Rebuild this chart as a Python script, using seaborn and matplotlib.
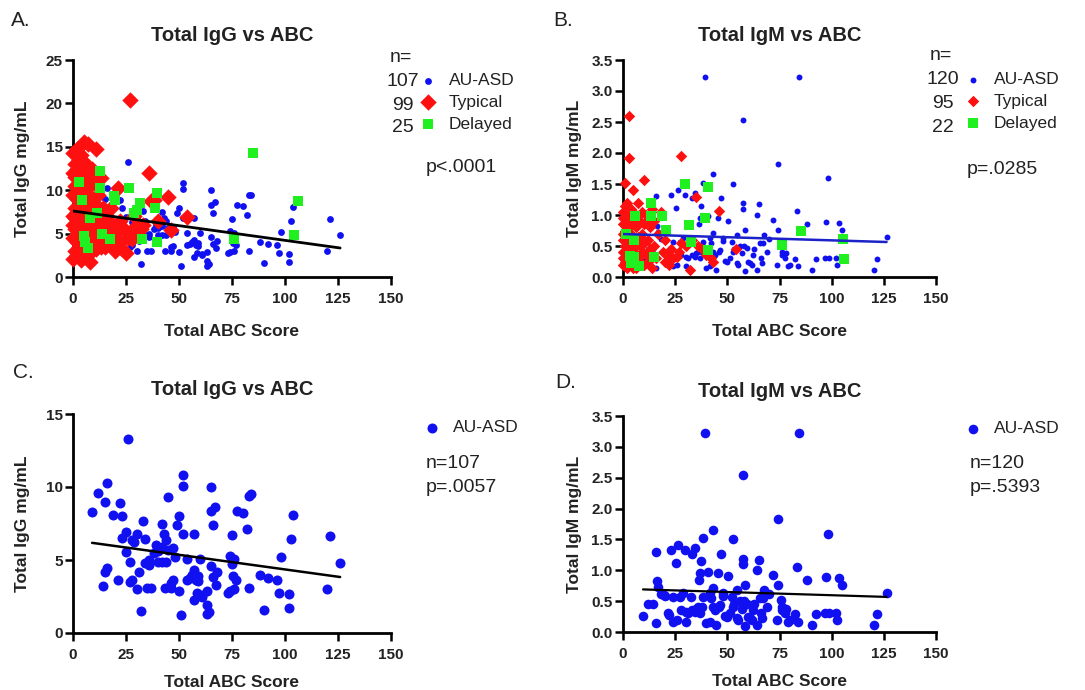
import matplotlib
matplotlib.use("Agg")
import matplotlib.pyplot as plt
import seaborn as sns
import pandas as pd
import numpy as np

# AU-ASD IgG (panels A and C)
asd_igg_x = [9, 12, 16, 15, 19, 22, 23, 26, 23, 25, 25, 28, 30, 33, 34, 29, 27, 16, 15, 14,
             21, 27, 28, 30, 31, 32, 35, 37, 36, 39, 40, 40, 42, 43, 44, 42, 44, 45, 43.5, 46,
             47, 47, 49, 50, 50, 51, 52, 52, 52, 54, 54, 57, 57, 57, 58, 58.5, 59, 60, 61, 63,
             63, 64, 63, 65, 65, 67, 66, 65, 66, 67.5, 68, 73, 74, 75, 75, 75.5, 76, 77, 77.5, 80,
             82, 83, 83, 84, 88, 90, 92, 96, 97, 98, 102, 102, 103, 104, 120, 121, 126,
             34, 38, 45, 46, 55, 56, 59, 48, 42, 36, 61, 74, 76]
asd_igg_y = [8.3, 9.6, 10.25, 9.0, 8.1, 8.9, 8.0, 13.3, 6.5, 6.9, 5.55, 6.35, 6.8, 7.65, 6.45, 6.25, 4.85, 4.45, 4.2, 3.2,
             3.6, 3.5, 3.65, 3.0, 4.2, 1.5, 3.05, 3.05, 4.65, 6.0, 5.6, 4.85, 7.45, 6.75, 6.4, 4.85, 4.85, 9.3, 3.05, 3.05,
             3.6, 5.8, 7.4, 8.0, 2.9, 1.25, 10.8, 10.1, 6.8, 5.1, 3.65, 6.75, 4.3, 2.25, 3.65, 2.75, 3.55, 5.05, 2.6, 1.9,
             1.3, 1.45, 2.9, 10.0, 8.35, 8.6, 7.4, 4.6, 3.85, 3.3, 4.2, 2.75, 5.25, 4.7, 6.7, 3.9, 3.0, 3.65, 8.35, 8.2,
             7.15, 3.05, 9.4, 9.5, 4.0, 1.6, 3.75, 3.65, 2.75, 5.2, 2.65, 1.7, 6.45, 8.1, 3.0, 6.65, 4.8,
             4.8, 5.5, 5.7, 3.4, 3.8, 4.0, 3.9, 5.2, 5.9, 5.0, 2.5, 2.9, 5.1]

# AU-ASD IgM (panels B and D)
asd_igm_x = [9.6, 12, 14.4, 15.7, 16, 16.3, 16.8, 19.5, 21.6, 23.2, 24, 24, 25.6, 26.4, 27.2, 28.8, 29.6, 30.4, 30.4, 32.8,
             33.3, 34.4, 34.4, 36, 36.5, 36.8, 37.6, 38.4, 38.4, 39.2, 40.8, 41.6, 41.6, 42.9, 43.2, 43.2, 44.8, 45.6, 46.4, 47.2,
             47.7, 48.8, 50.4, 51.2, 52, 52.5, 52.8, 54.4, 54.4, 56.8, 57.6, 57.6, 57.6, 58.4, 58.4, 59.2, 60.8, 62.4, 64, 64.3,
             65.3, 65.6, 66.4, 67.5, 68.8, 72, 73.6, 74.2, 74.4, 75.5, 76.4, 77.6, 79.2, 82.4, 83.2, 84, 84.4, 88.3, 90.4, 92.5,
             96.8, 97.2, 98.4, 98.8, 102, 102.7, 103.6, 104.8, 120.4, 121.5, 126.3,
             18, 20, 22, 26, 28, 31, 33, 35, 37, 38, 40, 42, 44, 46, 48, 50, 53, 55, 56, 58,
             60, 62, 63, 66, 67, 70, 76, 78, 80]
asd_igm_y = [0.26, 0.45, 0.45, 1.30, 0.14, 0.82, 0.73, 0.60, 0.30, 1.33, 0.57, 0.17, 1.12, 1.41, 0.57, 0.63, 1.33, 0.33, 0.17, 0.57,
             1.27, 1.36, 0.33, 0.41, 0.85, 0.95, 1.15, 1.52, 0.57, 3.22, 0.98, 0.63, 0.17, 0.71, 1.66, 0.41, 0.11, 0.95, 0.44, 1.27,
             0.63, 0.26, 0.91, 0.30, 0.57, 1.50, 0.41, 0.68, 0.22, 0.38, 1.19, 1.10, 2.54, 0.76, 0.09, 0.46, 0.22, 0.36, 0.11, 1.00,
             1.17, 0.55, 0.22, 0.68, 0.41, 0.92, 0.19, 1.83, 0.76, 0.52, 0.41, 0.30, 0.17, 0.29, 1.06, 0.17, 3.22, 0.85, 0.11, 0.29,
             0.30, 0.89, 1.59, 0.30, 0.30, 0.20, 0.87, 0.76, 0.11, 0.29, 0.64,
             0.62, 0.58, 0.28, 0.20, 0.35, 0.30, 0.35, 0.38, 0.30, 0.40, 0.15, 0.55, 0.35, 0.40, 0.58, 0.25, 0.45, 0.20, 0.50, 0.50,
             0.25, 0.20, 0.45, 0.30, 0.55, 0.62, 0.35, 0.38, 0.20]

# Typical IgG (panel A)
typ_igg_x = [0, 0, 0, 0, 0, 0, 0, 1, 1, 1, 1, 1, 1, 1, 2, 2, 2, 2, 2, 2, 3, 3, 3, 3, 3, 3, 4, 4, 4, 4, 4,
             5, 5, 5, 5, 5, 6, 6, 6, 6, 7, 7, 7, 7, 8, 8, 8, 8, 9, 9, 9, 10, 10, 10, 10, 11, 11, 11,
             12, 12, 12, 13, 13, 13, 14, 14, 15, 15, 16, 16,
             17, 18, 19, 20, 20, 21, 22, 22, 23, 24, 25, 26, 27, 28, 28, 29, 30, 31, 32, 33,
             36, 37, 38, 40, 45, 46, 54, 18, 9]
typ_igg_y = [2.1, 4.5, 7.0, 9.5, 12.0, 14.3, 6.0, 3.0, 5.5, 8.0, 10.5, 13.0, 11.5, 6.8, 2.5, 4.0, 7.5, 9.0, 12.5, 14.8,
             3.5, 5.0, 6.5, 10.0, 11.0, 13.5, 2.0, 6.0, 8.5, 12.0, 14.0,
             3.0, 5.5, 7.0, 11.5, 15.5, 4.5, 6.5, 9.5, 13.0, 2.5, 5.0, 8.0, 15.3, 1.7, 6.0, 10.5, 12.0, 3.5, 7.0, 9.0,
             4.0, 5.5, 8.5, 11.0, 3.2, 6.5, 14.8, 4.5, 7.5, 9.5, 3.5, 6.0, 11.4, 5.0, 8.0, 3.5, 6.5, 7.0, 4.5,
             5.5, 8.0, 6.0, 3.0, 5.0, 10.2, 4.0, 6.5, 3.2, 5.5, 2.8, 4.5, 20.4, 5.4, 4.4, 7.0, 5.0, 6.0, 5.5, 6.0,
             12.0, 8.8, 8.9, 6.5, 9.2, 5.4, 6.9, 4.0, 12.5]

# Typical IgM (panel B)
typ_igm_x = [3, 3, 1, 5, 10, 28, 35, 46, 54, 32, 42, 26,
             0, 0, 0, 0, 0, 0, 0, 1, 1, 1, 1, 1, 2, 2, 2, 2, 2, 3, 3, 3, 3, 4, 4, 4, 4,
             5, 5, 5, 6, 6, 6, 6, 7, 7, 7, 8, 8, 8, 9, 9, 9, 10, 10, 10,
             11, 11, 12, 12, 13, 13, 14, 14, 15, 15, 16, 17, 18, 19, 20, 20, 21, 22, 23, 24,
             27, 28, 30, 33, 36, 38, 40, 43,
             0, 1, 2, 3, 4, 5, 6, 7, 8, 9, 12]
typ_igm_y = [2.59, 1.92, 1.52, 1.41, 1.57, 1.95, 1.29, 1.06, 0.45, 0.11, 0.31, 0.33,
             0.2, 0.4, 0.6, 0.85, 1.05, 0.3, 0.7, 0.25, 0.5, 0.75, 0.95, 1.15, 0.15, 0.35, 0.6, 0.9, 1.2,
             0.3, 0.55, 0.8, 1.0, 0.2, 0.45, 0.7, 1.1,
             0.35, 0.6, 0.9, 0.15, 0.5, 0.8, 1.0, 0.3, 0.65, 1.2, 0.25, 0.5, 0.9, 0.4, 0.7, 1.05, 0.2, 0.55, 0.85,
             0.35, 1.0, 0.6, 0.25, 0.8, 0.45, 0.15, 1.1, 0.5, 0.9, 0.3, 0.7, 1.05, 0.4, 0.6, 0.25, 0.35, 0.2, 0.45, 0.3,
             0.4, 0.55, 0.5, 0.6, 0.5, 0.45, 0.35, 0.25,
             0.95, 0.4, 0.75, 0.2, 0.9, 0.15, 0.35, 0.85, 0.65, 0.2, 0.9]

# Delayed IgG (panel A)
del_igg_x = [2.7, 4.2, 12.9, 12.9, 26.3, 19.2, 20, 39.6, 38.8, 31.8, 30.2, 28.6, 32.5, 39.6, 17.6,
             13.7, 5, 6.9, 5.8, 75.8, 84.9, 106, 104.4, 11.3, 8]
del_igg_y = [10.9, 8.9, 12.2, 10.2, 10.2, 9.3, 8.9, 9.7, 7.9, 8.5, 7.7, 7.4, 4.4, 4.0, 4.4,
             4.9, 4.7, 3.3, 4.0, 4.4, 14.3, 8.8, 4.8, 7.4, 6.8]

# Delayed IgM (panel B)
del_igm_x = [29.6, 40.8, 13.6, 5.6, 13.6, 18.9, 39.5, 31.7, 20.5, 85.2, 32.8, 76, 105.2, 106, 40.5,
             14.7, 5.3, 3.2, 5.3, 7.7, 4, 1.6]
del_igm_y = [1.50, 1.45, 1.20, 0.99, 0.98, 0.99, 0.95, 0.84, 0.76, 0.74, 0.57, 0.52, 0.61, 0.29, 0.43,
             0.32, 0.60, 0.34, 0.33, 0.17, 0.22, 0.70]

group_names = ["AU-ASD", "Typical", "Delayed"]
n_igg = ["107", "99", "25"]
n_igm = ["120", "95", "22"]

BLUE = "#1010f0"
RED = "#ff1010"
GREEN = "#20f020"
INK = "#222222"

W, H = 1085, 690

sns.set_style("ticks")
plt.rcParams["font.family"] = ["Liberation Sans", "DejaVu Sans"]
plt.rcParams["text.color"] = INK

fig = plt.figure(figsize=(W / 100, H / 100), dpi=100)


def box(l, t, r, b):
    return [l / W, 1 - b / H, (r - l) / W, (b - t) / H]


def ftext(x, y, s, fs=14, **kw):
    fig.text(x / W, 1 - y / H, s, fontsize=fs, va="center", color=INK, **kw)


def style_axis(ax, ymax, ystep, ylabel, title, fmt, xpad, ypad):
    sns.despine(ax=ax)
    ax.set_xlim(0, 150)
    ax.set_ylim(0, ymax)
    ax.set_xticks(np.arange(0, 151, 25))
    yt = np.arange(0, ymax + 1e-9, ystep)
    ax.set_yticks(yt)
    ax.set_yticklabels([fmt.format(v) for v in yt])
    for s in ["left", "bottom"]:
        ax.spines[s].set_linewidth(2)
        ax.spines[s].set_color("black")
    ax.tick_params(width=1.8, length=5.5, labelsize=11, color="black", labelcolor=INK)
    ax.tick_params(axis="x", pad=5)
    ax.tick_params(axis="y", pad=2)
    for lab in ax.get_xticklabels() + ax.get_yticklabels():
        lab.set_fontweight("bold")
    ax.set_xlabel("Total ABC Score", fontsize=12.5, fontweight="bold", labelpad=xpad, color=INK)
    ax.set_ylabel(ylabel, fontsize=12.5, fontweight="bold", labelpad=ypad, color=INK)
    ax.set_title(title, fontsize=14.5, fontweight="bold", pad=14, color=INK)


def legend(ax, x, y):
    h, l = ax.get_legend_handles_labels()
    keep = [g for g in group_names if g in l]
    ax.legend([h[l.index(g)] for g in keep], keep,
              loc="upper left", bbox_to_anchor=(x / W, 1 - y / H), bbox_transform=fig.transFigure,
              frameon=False, fontsize=12.5, handlelength=0.7, handletextpad=0.85, labelspacing=0.38,
              borderpad=0, borderaxespad=0, labelcolor=INK)


# ---- A ----
axA = fig.add_axes(box(73, 60, 391, 277))
sns.scatterplot(x=typ_igg_x, y=typ_igg_y, ax=axA, color=RED, marker="D", s=70, linewidth=0,
                label="Typical", clip_on=False, zorder=3)
sns.scatterplot(x=asd_igg_x, y=asd_igg_y, ax=axA, color=BLUE, marker="o", s=24, linewidth=0,
                label="AU-ASD", clip_on=False, zorder=2)
sns.scatterplot(x=del_igg_x, y=del_igg_y, ax=axA, color=GREEN, marker="s", s=50, linewidth=0,
                label="Delayed", clip_on=False, zorder=4)
sns.regplot(x=np.array(asd_igg_x + typ_igg_x + del_igg_x), y=np.array(asd_igg_y + typ_igg_y + del_igg_y),
            ax=axA, scatter=False, ci=None, color="black", line_kws={"lw": 2, "zorder": 5})
style_axis(axA, 25, 5, "Total IgG mg/mL", "Total IgG vs ABC", "{:.0f}", 13, 11)
legend(axA, 422, 73)
ftext(390, 58, "n=")
for i, n in enumerate(n_igg):
    ftext(403, 82 + 23 * i, n, ha="center")
ftext(426, 168, "p<.0001")
ftext(11, 20, "A.", fs=15)

# ---- B ----
axB = fig.add_axes(box(623, 60, 936, 277))
sns.scatterplot(x=typ_igm_x, y=typ_igm_y, ax=axB, color=RED, marker="D", s=34, linewidth=0,
                label="Typical", clip_on=False, zorder=3)
sns.scatterplot(x=asd_igm_x, y=asd_igm_y, ax=axB, color=BLUE, marker="o", s=18, linewidth=0,
                label="AU-ASD", clip_on=False, zorder=2)
sns.scatterplot(x=del_igm_x, y=del_igm_y, ax=axB, color=GREEN, marker="s", s=42, linewidth=0,
                label="Delayed", clip_on=False, zorder=4)
sns.regplot(x=np.array(asd_igm_x + typ_igm_x + del_igm_x), y=np.array(asd_igm_y + typ_igm_y + del_igm_y),
            ax=axB, scatter=False, ci=None, color="#1a22c8", line_kws={"lw": 1.8, "zorder": 5})
style_axis(axB, 3.5, 0.5, "Total IgM mg/mL", "Total IgM vs ABC", "{:.1f}", 13, 7)
legend(axB, 967, 72)
ftext(930, 55, "n=")
for i, n in enumerate(n_igm):
    ftext(943, 80 + 24 * i, n, ha="center")
ftext(967, 170, "p=.0285")
ftext(553, 20, "B.", fs=15)

# ---- C ----
axC = fig.add_axes(box(73, 414, 391, 633))
sns.scatterplot(x=asd_igg_x, y=asd_igg_y, ax=axC, color=BLUE, marker="o", s=52, linewidth=0,
                label="AU-ASD", clip_on=False)
sns.regplot(x=np.array(asd_igg_x), y=np.array(asd_igg_y), ax=axC, scatter=False, ci=None,
            color="black", line_kws={"lw": 1.8})
style_axis(axC, 15, 5, "Total IgG mg/mL", "Total IgG vs ABC", "{:.0f}", 9.5, 11)
legend(axC, 426, 420)
ftext(426, 464, "n=107")
ftext(426, 488, "p=.0057")
ftext(13, 373, "C.", fs=15)

# ---- D ----
axD = fig.add_axes(box(623, 416, 936, 632))
sns.scatterplot(x=asd_igm_x, y=asd_igm_y, ax=axD, color=BLUE, marker="o", s=48, linewidth=0,
                label="AU-ASD", clip_on=False)
sns.regplot(x=np.array(asd_igm_x), y=np.array(asd_igm_y), ax=axD, scatter=False, ci=None,
            color="black", line_kws={"lw": 1.6})
style_axis(axD, 3.5, 0.5, "Total IgM mg/mL", "Total IgM vs ABC", "{:.1f}", 9.5, 7)
legend(axD, 967, 421)
ftext(970, 463, "n=120")
ftext(970, 487, "p=.5393")
ftext(555, 383, "D.", fs=15)

fig.savefig("out.png", dpi=100)
